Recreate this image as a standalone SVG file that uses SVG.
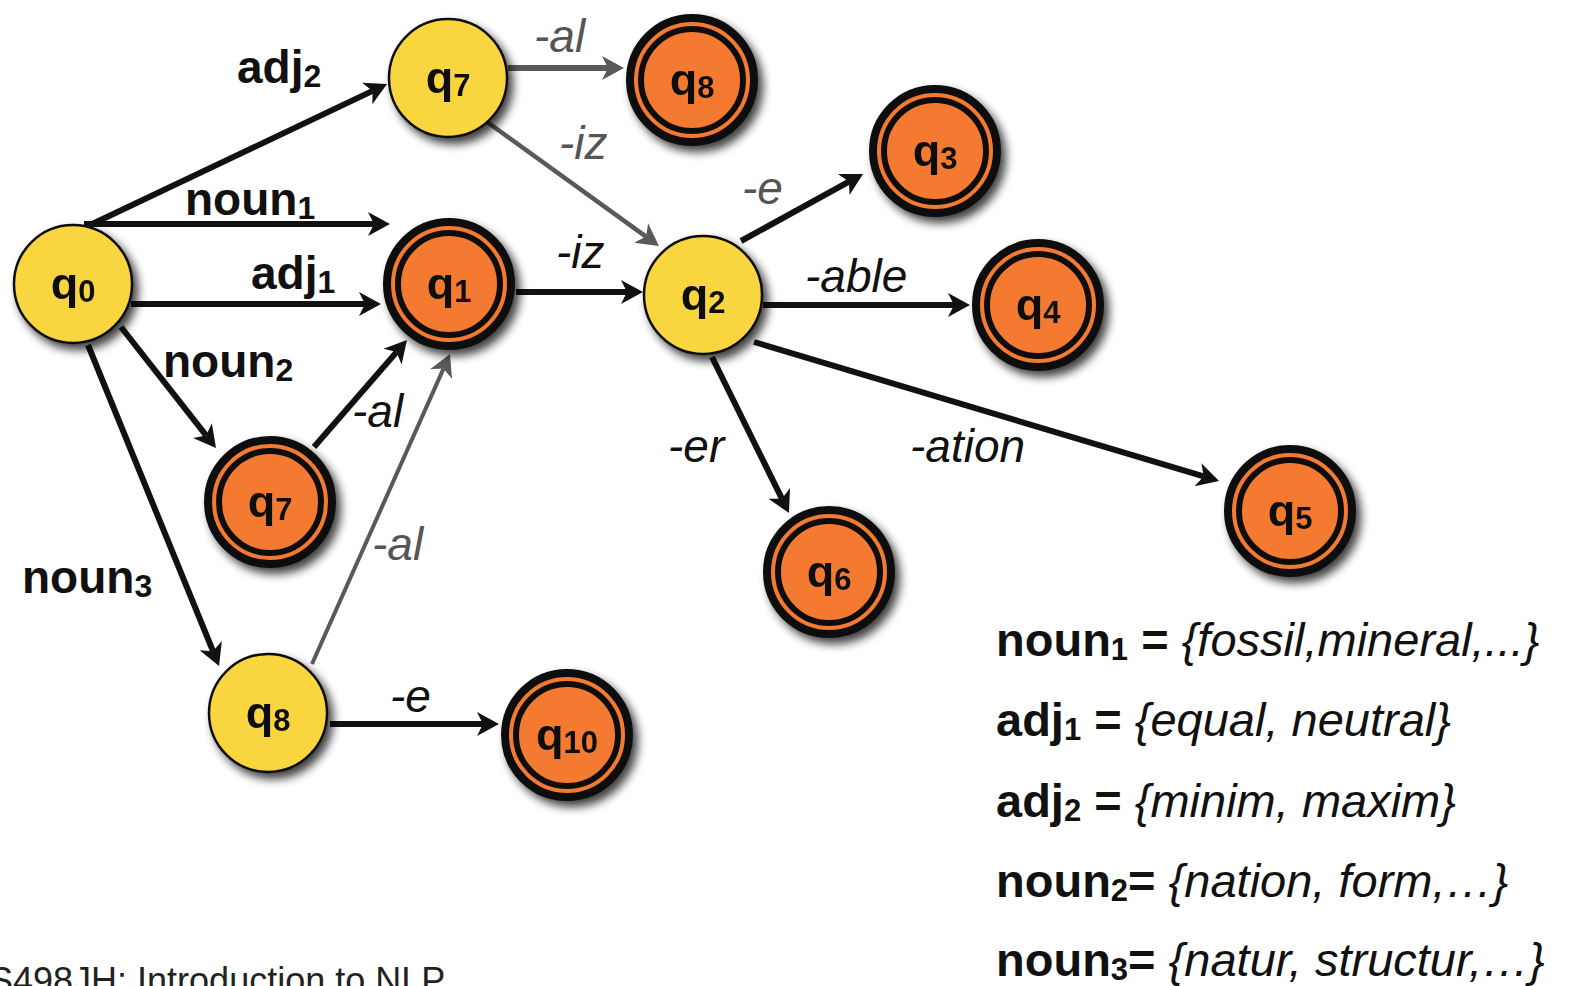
<svg xmlns="http://www.w3.org/2000/svg" width="1577" height="986" viewBox="0 0 1577 986">
  <style>
    .yel { fill: #F9D541; stroke: #111; stroke-width: 2.5; }
    .ring { fill: #F47A30; stroke: #111; stroke-width: 8; }
    .core { fill: #F47A30; stroke: #111; stroke-width: 6; }
    .nl { font-family: "Liberation Sans", Arial, sans-serif; font-weight: bold; font-size: 45px; fill: #111; text-anchor: middle; }
    .nl .sub { font-size: 31px; }
    .e { fill: none; stroke: #111; stroke-width: 6; marker-end: url(#ah); }
    .g { fill: none; stroke: #595959; stroke-width: 4.5; marker-end: url(#ahg); }
    .lb { font-family: "Liberation Sans", Arial, sans-serif; font-weight: bold; font-size: 46px; fill: #111; }
    .lb .sub { font-size: 32px; }
    .li { font-family: "Liberation Sans", Arial, sans-serif; font-style: italic; font-size: 46px; fill: #111; }
    .lg { fill: #555; }
    .def { font-family: "Liberation Sans", Arial, sans-serif; font-size: 47px; fill: #111; }
    .def .w { font-weight: bold; }
    .def .sub { font-size: 31px; font-weight: bold; }
    .def .set { font-style: italic; }
    .foot { font-family: "Liberation Sans", Arial, sans-serif; font-size: 36px; fill: #222; }
  </style>
  <defs>
    <filter id="shadow" x="-30%" y="-30%" width="170%" height="170%">
      <feGaussianBlur in="SourceAlpha" stdDeviation="5"/>
      <feOffset dx="5" dy="6" result="b"/>
      <feComponentTransfer><feFuncA type="linear" slope="0.75"/></feComponentTransfer>
      <feMerge><feMergeNode/><feMergeNode in="SourceGraphic"/></feMerge>
    </filter>
    <marker id="ah" markerUnits="userSpaceOnUse" markerWidth="40" markerHeight="40" viewBox="-10 -20 40 40" refX="0" refY="0" orient="auto" overflow="visible">
      <path d="M-6,-12 L16,0 L-6,12 L0,0 Z" fill="#111"/>
    </marker>
    <marker id="ahg" markerUnits="userSpaceOnUse" markerWidth="40" markerHeight="40" viewBox="-10 -20 40 40" refX="0" refY="0" orient="auto" overflow="visible">
      <path d="M-6,-12 L16,0 L-6,12 L0,0 Z" fill="#595959"/>
    </marker>
  </defs>

  <rect width="1577" height="986" fill="#fff"/>

  <!-- transitions -->
  <g id="edges">
    <line class="e" x1="88" y1="226" x2="372.6" y2="90.9"/>
    <line class="e" x1="84" y1="224" x2="374" y2="224"/>
    <line class="e" x1="131" y1="304" x2="365" y2="304"/>
    <line class="e" x1="121" y1="327" x2="206.1" y2="435.4"/>
    <line class="e" x1="88" y1="345" x2="213" y2="651.2"/>
    <line class="e" x1="314" y1="447" x2="396.5" y2="352.1"/>
    <line class="g" style="stroke-width:4" x1="312" y1="664" x2="443.5" y2="368.6"/>
    <line class="e" x1="516" y1="292" x2="627" y2="292"/>
    <line class="g" style="stroke-width:6" x1="508" y1="68" x2="608" y2="68"/>
    <line class="g" x1="483" y1="119" x2="646" y2="236.6"/>
    <line class="e" x1="741" y1="241" x2="849" y2="181.7"/>
    <line class="e" x1="763" y1="305" x2="954" y2="305"/>
    <line class="e" x1="712" y1="357" x2="781.9" y2="498.7"/>
    <line class="e" x1="754" y1="342" x2="1203.7" y2="476.4"/>
    <line class="e" x1="330" y1="724" x2="483" y2="724"/>
  </g>

  <!-- transition labels -->
  <g id="edge-labels">
    <text class="lb" x="237" y="83">adj<tspan class="sub" dy="4">2</tspan></text>
    <text class="lb" x="185" y="215">noun<tspan class="sub" dy="4">1</tspan></text>
    <text class="lb" x="251" y="289">adj<tspan class="sub" dy="4">1</tspan></text>
    <text class="lb" x="163" y="377">noun<tspan class="sub" dy="4">2</tspan></text>
    <text class="lb" x="22" y="593">noun<tspan class="sub" dy="4">3</tspan></text>
    <text class="li" x="352" y="427">-al</text>
    <text class="li lg" x="372" y="560">-al</text>
    <text class="li" x="556" y="268">-iz</text>
    <text class="li lg" x="534" y="52">-al</text>
    <text class="li lg" x="559" y="159">-iz</text>
    <text class="li lg" x="742" y="204">-e</text>
    <text class="li" x="805" y="292">-able</text>
    <text class="li" x="668" y="462">-er</text>
    <text class="li" x="910" y="462">-ation</text>
    <text class="li" x="390" y="712">-e</text>
  </g>

  <!-- states -->
  <g id="q0" filter="url(#shadow)">
    <circle class="yel" cx="73" cy="284" r="59"/>
    <text class="nl" x="73" y="299">q<tspan class="sub" dy="3">0</tspan></text>
  </g>
  <g id="q7a" filter="url(#shadow)">
    <circle class="yel" cx="448" cy="78" r="59"/>
    <text class="nl" x="448" y="93">q<tspan class="sub" dy="3">7</tspan></text>
  </g>
  <g id="q2" filter="url(#shadow)">
    <circle class="yel" cx="703" cy="295" r="59"/>
    <text class="nl" x="703" y="310">q<tspan class="sub" dy="3">2</tspan></text>
  </g>
  <g id="q8b" filter="url(#shadow)">
    <circle class="yel" cx="268" cy="713" r="59"/>
    <text class="nl" x="268" y="728">q<tspan class="sub" dy="3">8</tspan></text>
  </g>
  <g id="q8a" filter="url(#shadow)">
    <circle class="ring" cx="692" cy="80" r="62"/>
    <circle class="core" cx="692" cy="80" r="51"/>
    <text class="nl" x="692" y="95">q<tspan class="sub" dy="3">8</tspan></text>
  </g>
  <g id="q1" filter="url(#shadow)">
    <circle class="ring" cx="449" cy="284" r="62"/>
    <circle class="core" cx="449" cy="284" r="51"/>
    <text class="nl" x="449" y="299">q<tspan class="sub" dy="3">1</tspan></text>
  </g>
  <g id="q3" filter="url(#shadow)">
    <circle class="ring" cx="935" cy="151" r="62"/>
    <circle class="core" cx="935" cy="151" r="51"/>
    <text class="nl" x="935" y="166">q<tspan class="sub" dy="3">3</tspan></text>
  </g>
  <g id="q4" filter="url(#shadow)">
    <circle class="ring" cx="1038" cy="305" r="62"/>
    <circle class="core" cx="1038" cy="305" r="51"/>
    <text class="nl" x="1038" y="320">q<tspan class="sub" dy="3">4</tspan></text>
  </g>
  <g id="q7b" filter="url(#shadow)">
    <circle class="ring" cx="270" cy="502" r="62"/>
    <circle class="core" cx="270" cy="502" r="51"/>
    <text class="nl" x="270" y="517">q<tspan class="sub" dy="3">7</tspan></text>
  </g>
  <g id="q6" filter="url(#shadow)">
    <circle class="ring" cx="829" cy="572" r="62"/>
    <circle class="core" cx="829" cy="572" r="51"/>
    <text class="nl" x="829" y="587">q<tspan class="sub" dy="3">6</tspan></text>
  </g>
  <g id="q5" filter="url(#shadow)">
    <circle class="ring" cx="1290" cy="511" r="62"/>
    <circle class="core" cx="1290" cy="511" r="51"/>
    <text class="nl" x="1290" y="526">q<tspan class="sub" dy="3">5</tspan></text>
  </g>
  <g id="q10" filter="url(#shadow)">
    <circle class="ring" cx="567" cy="735" r="62"/>
    <circle class="core" cx="567" cy="735" r="51"/>
    <text class="nl" x="567" y="750">q<tspan class="sub" dy="3">10</tspan></text>
  </g>

  <!-- word-class definitions -->
  <g id="definitions">
    <text class="def" x="996" y="656"><tspan class="w">noun</tspan><tspan class="sub" dy="4">1</tspan><tspan class="w" dy="-4"> = </tspan><tspan class="set">{fossil,mineral,...}</tspan></text>
    <text class="def" x="996" y="736"><tspan class="w">adj</tspan><tspan class="sub" dy="4">1</tspan><tspan class="w" dy="-4"> = </tspan><tspan class="set">{equal, neutral}</tspan></text>
    <text class="def" x="996" y="817"><tspan class="w">adj</tspan><tspan class="sub" dy="4">2</tspan><tspan class="w" dy="-4"> = </tspan><tspan class="set">{minim, maxim}</tspan></text>
    <text class="def" x="996" y="897"><tspan class="w">noun</tspan><tspan class="sub" dy="4">2</tspan><tspan class="w" dy="-4">= </tspan><tspan class="set">{nation, form,…}</tspan></text>
    <text class="def" x="996" y="976"><tspan class="w">noun</tspan><tspan class="sub" dy="4">3</tspan><tspan class="w" dy="-4">= </tspan><tspan class="set">{natur, structur,…}</tspan></text>
  </g>

  <text class="foot" x="-37" y="993">CS498JH: Introduction to NLP</text>
</svg>
